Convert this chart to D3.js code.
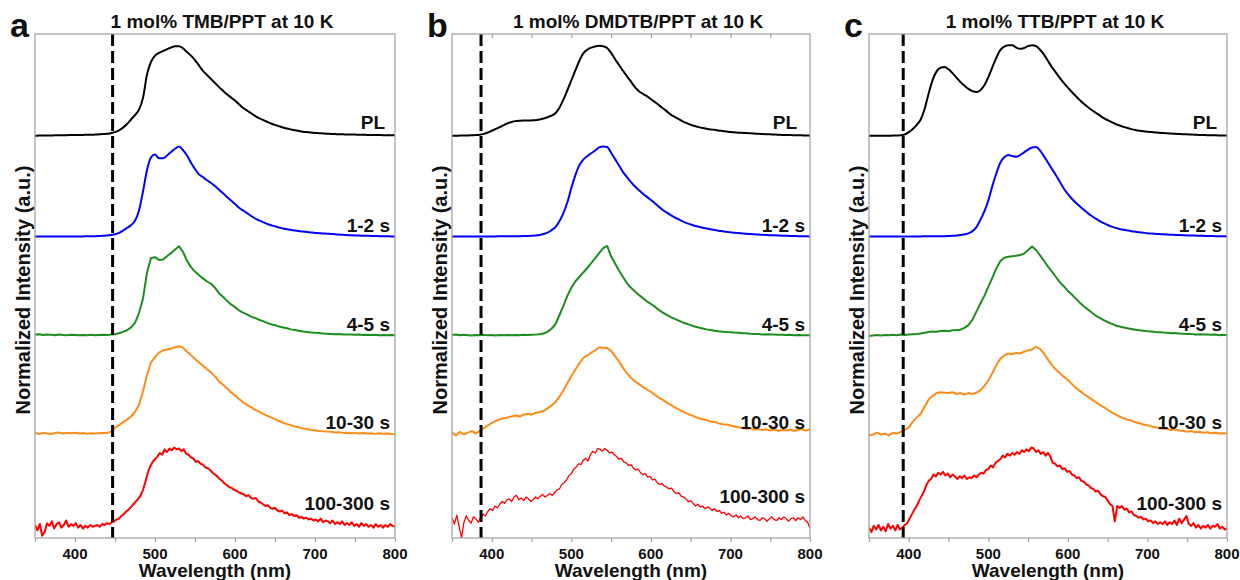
<!DOCTYPE html>
<html>
<head>
<meta charset="utf-8">
<script src="https://cdn.jsdelivr.net/npm/d3@7"></script>
<style>
  html, body { margin: 0; padding: 0; background: #ffffff; }
  svg { display: block; }
  text { font-family: "Liberation Sans", Arial, Helvetica, sans-serif; font-weight: bold; fill: #111; }
</style>
</head>
<body>
<svg id="chart" width="1240" height="580"></svg>
<script>
// ---------------- DATA ----------------
const xDomain = [350, 800];
const xTickValues = [400, 500, 600, 700, 800];
const xMinorTickValues = [350, 400, 450, 500, 550, 600, 650, 700, 750, 800];
const panelLetters = ["a", "b", "c"];
const panelTitles = ["1 mol% TMB/PPT at 10 K", "1 mol% DMDTB/PPT at 10 K", "1 mol% TTB/PPT at 10 K"];
const dashedWavelengths = [447, 386.5, 393];
const seriesLabels = ["PL", "1-2 s", "4-5 s", "10-30 s", "100-300 s"];
const seriesColors = ["#000000", "#0000ff", "#1e8c1e", "#ff8c1a", "#ff0000"];
const seriesOffsets = [4.47, 3.35, 2.25, 1.16, 0.125];
const yLabel = "Normalized Intensity (a.u.)";
const xLabel = "Wavelength (nm)";

// wavelength grids (nm)
const wl5 = d3.range(350, 801, 5);   // 91 points
const wl3 = d3.range(350, 801, 3);   // 151 points

// Panel a : TMB/PPT
const tmbPL = [0.000,0.001,0.002,0.002,0.003,0.004,0.005,0.005,0.006,0.007,0.008,0.008,0.009,0.010,0.010,0.012,0.015,0.018,0.022,0.028,0.040,0.060,0.090,0.130,0.180,0.230,0.290,0.420,0.680,0.820,0.890,0.920,0.940,0.960,0.980,0.995,0.995,0.970,0.930,0.890,0.840,0.780,0.720,0.675,0.630,0.585,0.540,0.500,0.460,0.425,0.390,0.350,0.310,0.280,0.250,0.220,0.195,0.175,0.155,0.135,0.120,0.105,0.092,0.080,0.070,0.060,0.052,0.045,0.040,0.035,0.031,0.028,0.025,0.022,0.020,0.018,0.016,0.015,0.014,0.013,0.012,0.011,0.010,0.009,0.008,0.008,0.007,0.006,0.006,0.005,0.005];
const tmb12 = [0,0,0,0,0,0,0,0,0,0,0,0.001,0.001,0.002,0.002,0.003,0.005,0.008,0.011,0.016,0.024,0.040,0.065,0.095,0.125,0.175,0.290,0.500,0.740,0.880,0.910,0.870,0.870,0.900,0.940,0.975,1.000,0.960,0.900,0.820,0.750,0.690,0.660,0.625,0.595,0.560,0.520,0.480,0.440,0.400,0.360,0.320,0.290,0.260,0.230,0.200,0.180,0.160,0.140,0.125,0.113,0.100,0.090,0.080,0.073,0.067,0.060,0.055,0.050,0.045,0.040,0.037,0.034,0.031,0.028,0.025,0.022,0.019,0.016,0.014,0.012,0.010,0.009,0.008,0.006,0.005,0.004,0.003,0.002,0.001,0];
const tmb45 = [0.010,0.015,0.005,0.012,0.008,0.004,0.010,0.006,0.003,0.008,0.005,0.002,0.006,0.004,0.007,0.003,0.006,0.008,0.006,0.010,0.015,0.025,0.040,0.058,0.090,0.140,0.250,0.410,0.700,0.860,0.870,0.840,0.845,0.880,0.915,0.955,0.990,0.930,0.830,0.760,0.710,0.670,0.635,0.600,0.575,0.530,0.470,0.430,0.385,0.345,0.315,0.280,0.255,0.235,0.210,0.195,0.175,0.160,0.140,0.125,0.115,0.100,0.090,0.080,0.068,0.060,0.052,0.044,0.040,0.033,0.030,0.028,0.022,0.020,0.018,0.015,0.016,0.012,0.010,0.012,0.008,0.010,0.006,0.008,0.005,0.007,0.004,0.006,0.002,0.005,0.003];
const tmb1030 = [0.010,-0.005,0.008,0.002,-0.004,0.006,0.012,0.000,0.008,0.004,0.010,0.002,0.006,-0.003,0.005,0.000,0.003,0.006,0.008,0.020,0.065,0.095,0.125,0.155,0.190,0.240,0.320,0.470,0.650,0.790,0.850,0.900,0.925,0.935,0.945,0.960,0.970,0.955,0.910,0.870,0.830,0.790,0.755,0.715,0.680,0.635,0.580,0.545,0.500,0.460,0.425,0.385,0.350,0.320,0.295,0.265,0.245,0.220,0.200,0.180,0.160,0.140,0.120,0.105,0.092,0.078,0.068,0.058,0.050,0.040,0.036,0.030,0.025,0.022,0.020,0.012,0.015,0.008,0.010,0.004,0.008,0.002,0.006,0.000,0.004,-0.003,0.003,-0.002,0.002,-0.004,-0.006];
const tmb100300 = [0.02,-0.04,0.03,-0.10,-0.06,0.04,0.01,0.06,-0.02,0.03,0.05,-0.01,0.02,0.07,0.00,0.03,0.01,0.04,-0.01,0.02,-0.02,0.01,-0.01,0.02,0.00,0.01,0.02,0.00,0.03,0.02,0.04,0.03,0.05,0.06,0.08,0.09,0.12,0.14,0.17,0.19,0.22,0.25,0.28,0.31,0.35,0.41,0.50,0.60,0.67,0.72,0.75,0.78,0.82,0.80,0.86,0.83,0.87,0.85,0.88,0.86,0.87,0.84,0.86,0.81,0.80,0.77,0.76,0.72,0.73,0.70,0.69,0.66,0.65,0.63,0.60,0.58,0.56,0.53,0.51,0.48,0.46,0.44,0.43,0.41,0.40,0.38,0.37,0.36,0.34,0.35,0.32,0.31,0.32,0.28,0.27,0.25,0.23,0.24,0.21,0.20,0.21,0.18,0.17,0.18,0.15,0.16,0.13,0.14,0.12,0.13,0.10,0.11,0.09,0.10,0.08,0.09,0.07,0.08,0.06,0.09,0.05,0.07,0.06,0.04,0.07,0.03,0.05,0.03,0.06,0.02,0.04,0.02,0.05,0.01,0.03,0.00,0.04,0.01,0.03,0.00,0.02,-0.01,0.03,0.00,0.02,-0.01,0.02,0.00,0.03,0.01,0.00];

// Panel b : DMDTB/PPT
const dmdtbPL = [0.000,0.000,0.001,0.002,0.003,0.005,0.007,0.010,0.020,0.035,0.055,0.075,0.095,0.118,0.138,0.153,0.162,0.166,0.168,0.169,0.170,0.172,0.180,0.192,0.205,0.222,0.250,0.310,0.400,0.505,0.615,0.725,0.830,0.915,0.955,0.978,0.992,1.000,0.995,0.975,0.920,0.850,0.785,0.720,0.660,0.600,0.540,0.495,0.465,0.440,0.405,0.375,0.340,0.305,0.270,0.235,0.210,0.185,0.160,0.140,0.122,0.107,0.095,0.085,0.077,0.070,0.065,0.058,0.052,0.046,0.040,0.037,0.034,0.032,0.030,0.027,0.024,0.021,0.019,0.017,0.015,0.013,0.011,0.009,0.008,0.007,0.006,0.005,0.004,0.003,0.003];
const dmdtb12 = [0,0,0,0,0,0,0,0,0.001,0.001,0.001,0.001,0.002,0.002,0.002,0.003,0.003,0.004,0.005,0.006,0.008,0.011,0.017,0.027,0.042,0.070,0.105,0.170,0.260,0.380,0.540,0.680,0.790,0.855,0.892,0.925,0.955,0.990,1.000,0.995,0.930,0.860,0.790,0.715,0.660,0.605,0.555,0.515,0.475,0.440,0.405,0.370,0.330,0.295,0.265,0.238,0.213,0.190,0.168,0.148,0.133,0.120,0.108,0.097,0.088,0.080,0.072,0.064,0.058,0.052,0.047,0.042,0.038,0.034,0.030,0.027,0.024,0.021,0.019,0.017,0.015,0.013,0.011,0.009,0.008,0.006,0.005,0.004,0.003,0.002,0.001];
const dmdtb45 = [0.005,0.010,0.002,0.008,0.004,0.000,0.006,0.003,0.007,0.002,0.005,0.001,0.006,0.003,0.005,0.002,0.006,0.004,0.007,0.005,0.008,0.010,0.014,0.022,0.040,0.075,0.125,0.225,0.330,0.440,0.530,0.600,0.650,0.700,0.750,0.805,0.860,0.915,0.970,0.995,0.880,0.800,0.720,0.650,0.580,0.530,0.490,0.450,0.415,0.380,0.350,0.320,0.285,0.255,0.230,0.205,0.185,0.165,0.145,0.130,0.115,0.100,0.088,0.078,0.068,0.060,0.052,0.046,0.042,0.038,0.035,0.032,0.030,0.026,0.025,0.020,0.018,0.016,0.012,0.014,0.010,0.011,0.008,0.009,0.006,0.007,0.004,0.006,0.003,0.004,0.002];
const dmdtb1030 = [0.01,-0.02,0.02,-0.01,0.01,0.03,0.00,0.03,0.06,0.09,0.12,0.14,0.16,0.17,0.18,0.19,0.20,0.19,0.21,0.22,0.21,0.23,0.24,0.25,0.28,0.31,0.35,0.41,0.48,0.56,0.64,0.71,0.78,0.84,0.87,0.90,0.925,0.96,0.955,0.95,0.92,0.86,0.80,0.73,0.67,0.62,0.58,0.55,0.52,0.49,0.465,0.43,0.40,0.375,0.345,0.32,0.29,0.27,0.245,0.225,0.205,0.19,0.17,0.16,0.15,0.135,0.13,0.115,0.105,0.10,0.09,0.08,0.07,0.065,0.055,0.06,0.045,0.05,0.04,0.048,0.035,0.045,0.03,0.04,0.035,0.045,0.03,0.04,0.05,0.035,0.045];
const dmdtb100300 = [0.10,0.03,0.13,0.00,-0.12,0.05,0.12,0.07,0.04,0.11,0.09,0.05,0.10,0.14,0.12,0.17,0.20,0.18,0.23,0.21,0.25,0.28,0.26,0.30,0.31,0.28,0.33,0.35,0.30,0.32,0.29,0.33,0.31,0.28,0.30,0.33,0.31,0.34,0.36,0.33,0.35,0.37,0.35,0.38,0.41,0.42,0.47,0.49,0.52,0.57,0.59,0.64,0.66,0.70,0.69,0.74,0.76,0.73,0.80,0.84,0.82,0.87,0.86,0.84,0.87,0.85,0.82,0.83,0.80,0.78,0.75,0.76,0.72,0.71,0.68,0.69,0.65,0.63,0.64,0.60,0.58,0.59,0.55,0.56,0.52,0.53,0.49,0.47,0.48,0.45,0.44,0.42,0.43,0.39,0.37,0.38,0.34,0.33,0.31,0.28,0.29,0.26,0.23,0.25,0.22,0.23,0.20,0.22,0.21,0.18,0.20,0.17,0.18,0.15,0.16,0.13,0.15,0.12,0.11,0.13,0.10,0.12,0.09,0.10,0.12,0.08,0.09,0.11,0.08,0.07,0.10,0.09,0.06,0.09,0.11,0.08,0.07,0.10,0.08,0.11,0.09,0.06,0.09,0.10,0.07,0.10,0.08,0.11,0.07,0.05,-0.02];

// Panel c : TTB/PPT
const ttbPL = [0.000,0.000,0.000,0.000,0.000,0.000,0.001,0.002,0.004,0.015,0.040,0.075,0.120,0.180,0.300,0.470,0.620,0.715,0.755,0.762,0.738,0.695,0.645,0.595,0.555,0.520,0.495,0.485,0.505,0.560,0.650,0.760,0.865,0.950,0.990,1.005,1.005,0.980,0.965,0.975,0.995,1.005,0.995,0.955,0.900,0.830,0.760,0.700,0.640,0.585,0.535,0.485,0.440,0.395,0.355,0.318,0.285,0.255,0.225,0.196,0.172,0.150,0.130,0.113,0.098,0.085,0.073,0.063,0.055,0.049,0.044,0.040,0.036,0.032,0.030,0.027,0.024,0.021,0.019,0.017,0.015,0.013,0.011,0.009,0.008,0.006,0.005,0.004,0.003,0.002,0.001];
const ttb12 = [0,0,0,0,0,0,0,0,0,0,0,0.001,0.001,0.001,0.002,0.002,0.002,0.003,0.003,0.004,0.006,0.008,0.011,0.016,0.024,0.035,0.060,0.105,0.185,0.280,0.400,0.560,0.700,0.820,0.880,0.905,0.895,0.885,0.905,0.935,0.965,0.990,0.995,0.955,0.890,0.820,0.750,0.680,0.605,0.530,0.470,0.420,0.375,0.335,0.296,0.260,0.228,0.198,0.172,0.148,0.128,0.110,0.096,0.084,0.074,0.066,0.059,0.053,0.047,0.042,0.037,0.033,0.030,0.027,0.025,0.022,0.020,0.018,0.016,0.014,0.012,0.011,0.010,0.008,0.007,0.006,0.005,0.004,0.003,0.002,0.001];
const ttb45 = [-0.005,0.000,0.005,0.000,0.006,0.002,0.008,0.004,0.010,0.006,0.012,0.015,0.018,0.022,0.030,0.038,0.045,0.042,0.050,0.052,0.048,0.058,0.060,0.065,0.085,0.115,0.175,0.265,0.355,0.440,0.540,0.640,0.745,0.825,0.865,0.875,0.880,0.885,0.895,0.910,0.950,0.990,0.950,0.890,0.830,0.765,0.710,0.650,0.590,0.545,0.495,0.455,0.410,0.365,0.325,0.290,0.255,0.220,0.195,0.170,0.150,0.130,0.112,0.100,0.090,0.080,0.072,0.065,0.058,0.052,0.048,0.045,0.040,0.036,0.032,0.030,0.025,0.028,0.022,0.020,0.016,0.018,0.012,0.014,0.010,0.012,0.008,0.010,0.004,0.007,0.003];
const ttb1030 = [-0.02,-0.01,0.01,-0.01,0.00,-0.02,0.01,0.00,0.02,0.04,0.07,0.13,0.18,0.22,0.30,0.38,0.42,0.45,0.46,0.455,0.45,0.46,0.44,0.45,0.435,0.45,0.44,0.455,0.48,0.53,0.59,0.67,0.76,0.83,0.87,0.89,0.885,0.895,0.89,0.91,0.925,0.935,0.965,0.94,0.89,0.82,0.76,0.71,0.67,0.63,0.595,0.55,0.51,0.475,0.44,0.41,0.38,0.35,0.32,0.295,0.265,0.235,0.21,0.19,0.17,0.155,0.145,0.125,0.115,0.10,0.093,0.08,0.07,0.06,0.055,0.05,0.04,0.045,0.035,0.03,0.02,0.03,0.015,0.02,0.01,0.015,0.005,0.01,0.00,0.005,0.00];
const ttb100300 = [-0.01,-0.06,0.01,-0.03,0.02,-0.04,0.00,-0.05,0.03,-0.02,0.01,-0.04,0.02,-0.03,-0.01,0.02,0.04,0.09,0.14,0.19,0.23,0.29,0.34,0.39,0.46,0.51,0.53,0.58,0.56,0.60,0.58,0.61,0.57,0.59,0.55,0.58,0.56,0.53,0.56,0.54,0.57,0.53,0.55,0.54,0.57,0.55,0.58,0.60,0.59,0.63,0.64,0.68,0.66,0.71,0.73,0.75,0.79,0.77,0.81,0.79,0.82,0.80,0.83,0.81,0.85,0.83,0.86,0.84,0.88,0.87,0.83,0.85,0.81,0.83,0.79,0.82,0.78,0.71,0.70,0.67,0.68,0.64,0.65,0.61,0.62,0.58,0.57,0.54,0.55,0.51,0.50,0.47,0.46,0.43,0.42,0.39,0.40,0.36,0.34,0.33,0.29,0.25,0.23,0.06,0.23,0.21,0.23,0.19,0.20,0.16,0.17,0.13,0.12,0.10,0.11,0.08,0.09,0.06,0.07,0.04,0.06,0.03,0.05,0.03,0.06,0.02,0.05,0.03,0.07,0.02,0.09,0.04,0.08,0.12,0.03,0.01,0.04,-0.01,0.02,-0.02,0.01,-0.01,0.02,-0.02,0.01,0.00,0.03,-0.02,0.00,-0.03,-0.02];

const panelSeries = [
  [tmbPL, tmb12, tmb45, tmb1030, tmb100300],
  [dmdtbPL, dmdtb12, dmdtb45, dmdtb1030, dmdtb100300],
  [ttbPL, ttb12, ttb45, ttb1030, ttb100300]
];

// ---------------- LAYOUT ----------------
const svg = d3.select("#chart");
svg.append("rect").attr("width", 1240).attr("height", 580).attr("fill", "#ffffff");

const panelBoxes = [ {x0: 35, x1: 395}, {x0: 452, x1: 810}, {x0: 869, x1: 1227} ];
const yTop = 34, yBottom = 538;
const y = d3.scaleLinear().domain([0, 5.6]).range([yBottom, yTop]);
const frameColor = "#a6a6a6";
const defs = svg.append("defs");

panelBoxes.forEach((box, p) => {
  const x = d3.scaleLinear().domain(xDomain).range([box.x0, box.x1]);
  const g = svg.append("g");

  const clipId = "clip" + p;
  defs.append("clipPath").attr("id", clipId)
    .append("rect").attr("x", box.x0).attr("y", yTop).attr("width", box.x1 - box.x0).attr("height", yBottom - yTop);

  const plot = g.append("g").attr("clip-path", `url(#${clipId})`);

  // curves
  panelSeries[p].forEach((vals, s) => {
    const grid = vals.length === wl3.length ? wl3 : wl5;
    const pts = grid.map((w, i) => [w, vals[i]]);
    const noisy = s >= 2;
    const line = d3.line()
      .x(d => x(d[0]))
      .y(d => y(d[1] + seriesOffsets[s]))
      .curve(noisy ? d3.curveLinear : d3.curveMonotoneX);
    plot.append("path").datum(pts)
      .attr("d", line)
      .attr("fill", "none")
      .attr("stroke", seriesColors[s])
      .attr("stroke-width", (p === 1 && s === 4) ? 1.3 : 2)
      .attr("stroke-linejoin", "round");
  });

  // dashed line
  g.append("line")
    .attr("x1", x(dashedWavelengths[p])).attr("x2", x(dashedWavelengths[p]))
    .attr("y1", yTop).attr("y2", yBottom)
    .attr("stroke", "#000").attr("stroke-width", 3)
    .attr("stroke-dasharray", "12,5");

  // frame
  g.append("rect").attr("x", box.x0).attr("y", yTop)
    .attr("width", box.x1 - box.x0).attr("height", yBottom - yTop)
    .attr("fill", "none").attr("stroke", frameColor).attr("stroke-width", 1.3);

  // bottom axis ticks (outward)
  const axis = d3.axisBottom(x).tickValues(xMinorTickValues).tickSize(4).tickFormat("");
  const ag = g.append("g").attr("transform", `translate(0,${yBottom})`).call(axis);
  ag.select(".domain").remove();
  ag.selectAll(".tick line").attr("stroke", frameColor).attr("stroke-width", 1.3);

  // top inward ticks (panel b)
  if (p === 1) {
    const topAxis = d3.axisBottom(x).tickValues(xMinorTickValues.slice(1, -1)).tickSize(4).tickFormat("");
    const tg = g.append("g").attr("transform", `translate(0,${yTop})`).call(topAxis);
    tg.select(".domain").remove();
    tg.selectAll(".tick line").attr("stroke", frameColor).attr("stroke-width", 1.3);
  }

  // tick labels
  g.selectAll(".xtl").data(xTickValues).enter().append("text")
    .attr("x", d => x(d)).attr("y", 559)
    .attr("text-anchor", "middle").attr("font-size", "15px")
    .text(d => d);

  // x label
  g.append("text").attr("x", (box.x0 + box.x1) / 2).attr("y", 577)
    .attr("text-anchor", "middle").attr("font-size", "19px").text(xLabel);

  // y label
  g.append("text")
    .attr("transform", `translate(${box.x0 - 5},290) rotate(-90)`)
    .attr("text-anchor", "middle").attr("font-size", "20px").text(yLabel);

  // title
  g.append("text").attr("x", (box.x0 + box.x1) / 2 + 7).attr("y", 28)
    .attr("text-anchor", "middle").attr("font-size", "19px").text(panelTitles[p]);

  // panel letter
  g.append("text").attr("x", box.x0 - 25).attr("y", 37)
    .attr("font-size", "34px")
    .text(panelLetters[p]);

  // series labels
  seriesLabels.forEach((lab, s) => {
    const dx = s === 0 ? (p === 1 ? 13 : 10) : 5;
    const dy = s === 0 ? 7 : (s === 4 ? (p === 1 ? 24 : 17) : 5);
    g.append("text")
      .attr("x", box.x1 - dx)
      .attr("y", y(seriesOffsets[s]) - dy)
      .attr("text-anchor", "end").attr("font-size", "19px")
      .text(lab);
  });
});
</script>
</body>
</html>
